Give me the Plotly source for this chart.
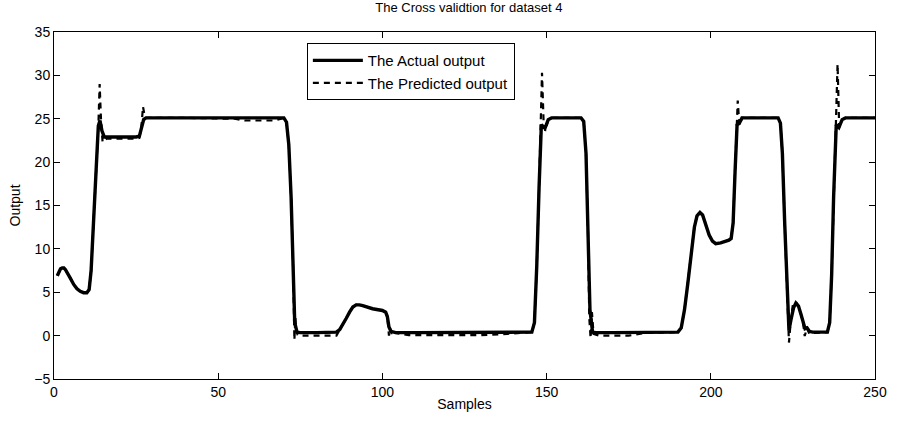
import plotly.graph_objects as go

# ---- data ----
actual_x = [1, 1.5, 2, 2.5, 3, 3.5, 4, 5, 6, 7, 8, 9, 10, 10.7, 11.3, 12, 13, 13.5, 14, 14.6, 15.3, 16, 20, 25, 26, 26.6, 27.3, 28,
            40, 50, 60, 70, 70.8, 71.5, 72.2, 72.8, 73.3, 74, 75, 80, 86, 87, 88, 89, 90, 91, 92, 93, 94, 97, 100, 101, 101.5, 102, 102.6, 103.3, 104,
            110, 120, 130, 140, 145.5, 146.3, 147, 147.7, 148.4, 149.5, 150.5, 151.5, 155, 160.5, 161.3, 162, 162.6, 163.2, 164, 165,
            170, 180, 190, 191, 192, 193, 194, 195, 195.8, 196.7, 197.5, 198.5, 199.5, 200.5, 201.5, 203, 205.5, 206.2, 206.8, 207.4, 208.0, 208.7, 209.5,
            215, 220.5, 221.2, 221.8, 222.5, 223.2, 223.8, 224.4, 225.2, 225.9, 226.7, 227.5, 228.2, 228.7, 229.3, 230, 231, 235.5, 236.2, 236.8, 237.4, 238.2, 239, 240, 241, 245, 250]
actual_y = [6.9, 7.4, 7.7, 7.8, 7.8, 7.6, 7.3, 6.6, 5.9, 5.4, 5.1, 4.95, 4.95, 5.3, 7.5, 13, 21, 24.2, 24.8, 23.6, 22.9, 22.9, 22.9, 22.9, 23.0, 23.8, 24.9, 25.1,
            25.1, 25.1, 25.1, 25.1, 24.6, 22, 16, 8, 1.5, 0.4, 0.35, 0.35, 0.4, 0.7, 1.3, 2.0, 2.7, 3.3, 3.55, 3.55, 3.45, 3.1, 2.9, 2.7, 2.2, 1.0, 0.5, 0.4, 0.35,
            0.35, 0.35, 0.35, 0.35, 0.4, 1.5, 8, 17, 24.3, 23.9, 24.9, 25.1, 25.1, 25.1, 24.7, 21, 12, 3, 0.4, 0.35,
            0.35, 0.35, 0.4, 0.9, 3, 6, 9.5, 12.5, 13.8, 14.2, 13.9, 12.8, 11.6, 10.9, 10.6, 10.7, 11.0, 11.2, 13, 19, 24.3, 24.5, 25.1,
            25.1, 25.1, 24.5, 21, 13, 5, 0.6, 1.8, 3.2, 3.75, 3.4, 2.4, 1.2, 0.8, 0.9, 0.5, 0.4, 0.4, 1.5, 7, 16, 24.3, 24.0, 24.9, 25.1, 25.1, 25.1]

pred_x = [1, 1.5, 2, 2.5, 3, 3.5, 4, 5, 6, 7, 8, 9, 10, 10.7, 11.3, 12, 13, 13.5, 13.9, 14.3, 14.8, 15.3, 16, 20, 25, 26, 26.6, 27.1, 27.6, 28,
          40, 55, 58, 67, 69, 70, 70.8, 71.5, 72.2, 72.8, 73.2, 73.5, 73.8, 74.2, 75, 86, 87, 88, 89, 90, 91, 92, 93, 94, 97, 100, 101, 101.5, 102, 102.4, 102.8, 103.3, 104,
          108, 112, 130, 138, 142, 145.5, 146.3, 147, 147.7, 148.2, 148.6, 149.1, 149.6, 150.5, 151.5, 155, 160.5, 161.3, 162, 162.6, 163.0, 163.4, 163.8, 164.3, 166,
          175, 180, 190, 191, 192, 193, 194, 195, 195.8, 196.7, 197.5, 198.5, 199.5, 200.5, 201.5, 203, 205.5, 206.2, 206.8, 207.4, 207.8, 208.2, 208.7, 209.5,
          215, 220.5, 221.2, 221.8, 222.5, 223.2, 223.8, 224.3, 225.0, 225.9, 226.7, 227.5, 228.2, 228.6, 229.3, 230, 231, 235.5, 236.2, 236.8, 237.4, 238.1, 238.6, 239.1, 240, 241, 245, 250]
pred_y = [6.9, 7.4, 7.7, 7.8, 7.8, 7.6, 7.3, 6.6, 5.9, 5.4, 5.1, 4.95, 4.95, 5.3, 7.5, 13, 21, 24.0, 29.0, 25.0, 22.3, 22.5, 22.7, 22.7, 22.7, 22.8, 24.0, 26.4, 25.3, 25.1,
          25.1, 25.0, 24.8, 24.8, 25.0, 25.1, 24.6, 22, 16, 8, -0.5, 2.1, 0.5, 0.1, 0.0, 0.0, 0.7, 1.3, 2.0, 2.7, 3.3, 3.55, 3.55, 3.45, 3.1, 2.9, 2.7, 2.2, 0.0, 0.8, 0.2, 0.6, 0.3,
          0.05, 0.05, 0.05, 0.2, 0.35, 0.4, 1.5, 8, 17, 24.0, 30.3, 24.5, 23.6, 24.9, 25.1, 25.1, 25.1, 24.7, 21, 12, 2, -0.3, 2.7, 0.2, 0.0,
          0.0, 0.3, 0.4, 0.9, 3, 6, 9.5, 12.5, 13.8, 14.2, 13.9, 12.8, 11.6, 10.9, 10.6, 10.7, 11.0, 11.2, 13, 19, 24.5, 27.1, 24.2, 25.1,
          25.1, 25.1, 24.5, 21, 13, 5, -0.8, 1.5, 3.6, 3.9, 3.4, 2.4, 1.2, -0.05, 0.9, 0.2, 0.3, 0.4, 1.5, 7, 16, 24.5, 31.3, 24.0, 24.9, 25.1, 25.1, 25.1]

x_ticks = [0, 50, 100, 150, 200, 250]
y_ticks = [-5, 0, 5, 10, 15, 20, 25, 30, 35]

FONT = "Liberation Sans, Arial, sans-serif"

fig = go.Figure()
fig.add_trace(go.Scatter(x=pred_x, y=pred_y, mode="lines", name="The Predicted output",
                         line=dict(color="black", width=2.2, dash="6px,5px"), showlegend=False))
fig.add_trace(go.Scatter(x=actual_x, y=actual_y, mode="lines", name="The Actual output",
                         line=dict(color="black", width=3.4)))
# legend entry for the predicted series (listed after the actual one, as in the reference)
fig.add_trace(go.Scatter(x=[None], y=[None], mode="lines", name="The Predicted output",
                         line=dict(color="black", width=2.2, dash="6px,5px")))

axis_common = dict(showline=True, linecolor="black", linewidth=1, mirror="ticks",
                   ticks="inside", ticklen=6, tickcolor="black", tickwidth=1,
                   showgrid=False, zeroline=False,
                   tickfont=dict(family=FONT, size=14, color="black"))

fig.update_layout(
    width=899, height=424,
    margin=dict(l=54, r=15, t=32, b=45),
    paper_bgcolor="white", plot_bgcolor="white",
    title=dict(text="The Cross validtion for dataset 4", x=0.5216, xanchor="center",
               y=0.992, yanchor="top", font=dict(family=FONT, size=13, color="black")),
    xaxis=dict(range=[0, 250], tickvals=x_ticks,
               title=dict(text="Samples", font=dict(family=FONT, size=14, color="black"), standoff=0),
               **axis_common),
    yaxis=dict(range=[-5, 35], tickvals=y_ticks,
               title=dict(text="Output", font=dict(family=FONT, size=14, color="black"), standoff=10),
               **axis_common),
    legend=dict(x=0.308, y=0.968, xanchor="left", yanchor="top",
                bordercolor="black", borderwidth=1, bgcolor="white",
                font=dict(family=FONT, size=15, color="black"),
                itemwidth=50, tracegroupgap=0),
    showlegend=True,
)

fig.write_html("out.html")
